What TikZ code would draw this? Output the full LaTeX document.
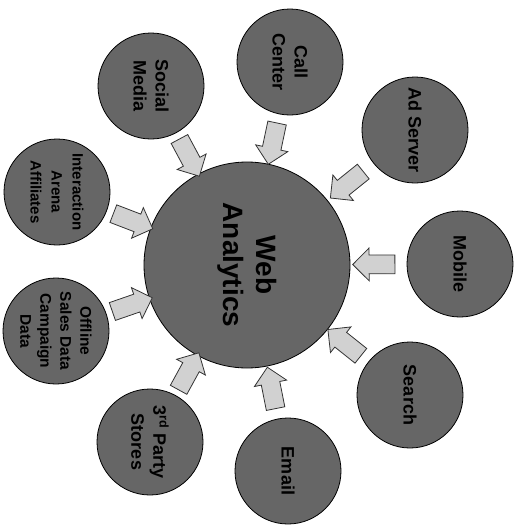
\documentclass[tikz,border=0pt]{standalone}
\usepackage{fontspec}
\setmainfont{Liberation Sans}
\usetikzlibrary{shapes.arrows}

\begin{document}
\begin{tikzpicture}[
  x=1pt, y=-1pt,
  hub/.style={circle, draw=black, thick, fill=black!60, minimum size=206pt, inner sep=0pt, align=center, rotate=-90, font=\bfseries\fontsize{28}{33}\selectfont},
  src/.style={circle, draw=black, thick, fill=black!60, minimum size=106pt, inner sep=0pt, align=center, rotate=-90, font=\bfseries\fontsize{18}{22}\selectfont},
  feed/.style={single arrow, draw=black!80, thick, fill=black!18, inner sep=0pt, text width=32pt, text height=9pt, text depth=9pt, single arrow head extend=7pt, sloped, allow upside down}
]
\useasboundingbox (0,0) rectangle (518,530);

\node[hub] (web) at (247,265) {Web\\Analytics};

\node[src] (call) at (290,62) {Call\\Center};
\node[src] (social) at (151,86) {Social\\Media};
\node[src] (adserver) at (415,130) {Ad Server};
\node[src] (mobile) at (460,264) {Mobile};
\node[src] (search) at (410,395) {Search};
\node[src] (email) at (288,471) {Email};
\node[src] (party) at (150,442) {3\textsuperscript{rd} Party\\Stores};
\node[src, font=\bfseries\fontsize{15.5}{20}\selectfont] (offline) at (56,331) {Offline\\Sales Data\\Campaign\\Data};
\node[src, font=\bfseries\fontsize{15}{21}\selectfont] (arena) at (57,192) {Interaction\\Arena\\Affiliates};

% feeds into the hub
\foreach \s in {call,social,adserver,mobile,search,email,party,offline,arena}
  \path (\s) -- (web) node[feed, midway] {};
\end{tikzpicture}
\end{document}
